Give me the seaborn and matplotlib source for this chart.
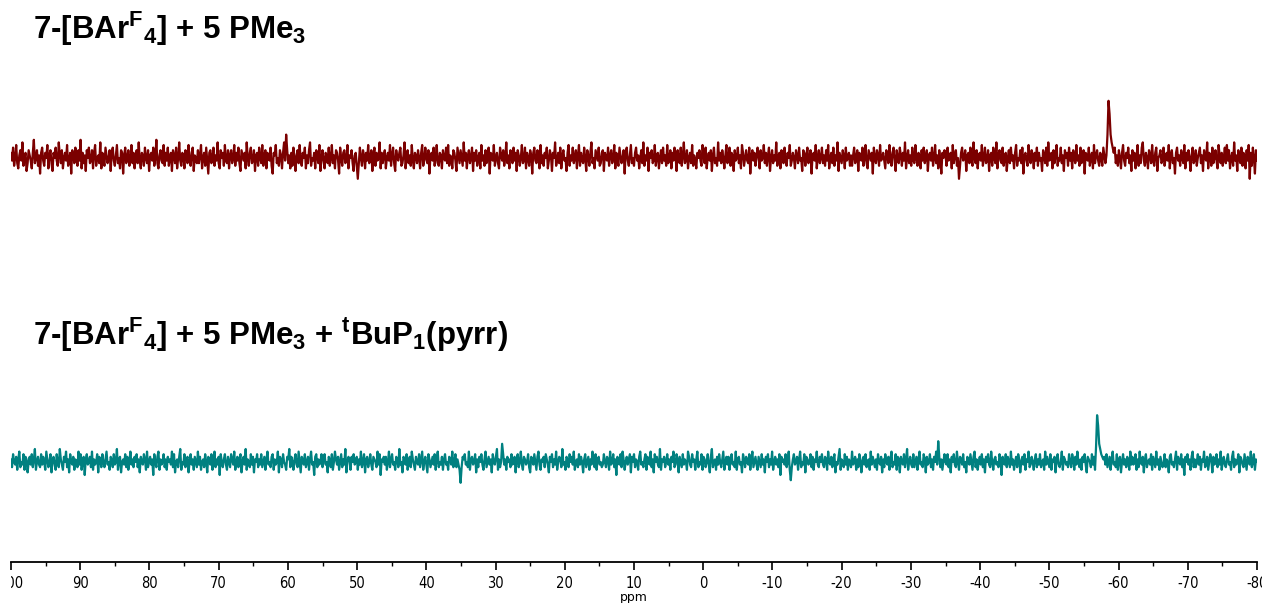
import numpy as np
import pandas as pd
import matplotlib
matplotlib.use("Agg")
import matplotlib.pyplot as plt
import seaborn as sns
from matplotlib.ticker import MultipleLocator
from matplotlib.transforms import Bbox, TransformedBbox

# Stacked 31P{1H} NMR traces: intensity (arbitrary units) sampled every 0.15 ppm, 100 -> -80 ppm
top_intensity = [
    2,-1,4,-3,0,5,-2,-4,1,3,-1,6,-3,0,2,-5,-2,3,1,-1,-4,2,7,-2,0,3,-3,1,-6,2,
    4,-1,-3,2,0,5,-4,1,3,-2,-5,2,0,4,-1,-3,6,1,-2,3,-4,0,2,-1,5,-3,-1,2,-6,3,
    1,-2,4,0,-3,3,-1,7,-4,2,-2,1,-5,3,0,4,-2,-1,3,-4,2,5,-3,0,1,-2,6,-4,2,-1,
    -3,4,1,-2,0,3,-5,2,4,-1,-3,1,5,-2,0,-4,3,2,-6,1,4,-2,0,3,-3,-1,5,-2,2,-4,
    0,3,-2,6,-1,-4,2,1,-3,4,0,-2,3,-5,1,2,-1,4,-3,0,7,-2,-4,1,3,-1,-2,5,-3,2,
    -1,4,-3,0,2,-5,3,1,-2,4,-4,0,6,-1,-3,2,1,-4,3,0,-2,5,-1,-3,2,4,-5,1,0,-2,
    3,-2,1,5,-4,0,2,-3,4,-1,-6,2,3,-2,0,4,-3,1,-1,6,-2,-4,3,0,2,-3,5,-1,-2,3,
    -4,1,3,-2,0,5,-3,2,-1,4,-2,-5,3,1,-1,2,-4,6,0,-3,2,4,-2,-1,3,-5,1,2,-3,4,
    0,-2,5,-3,1,3,-4,2,0,-1,4,-3,-6,2,1,5,-2,0,-3,3,1,-4,2,6,-1,9,3,-2,1,-4,
    2,-3,4,0,-5,1,3,-2,5,-1,-3,2,0,4,-4,1,-2,3,6,-3,0,-1,2,-4,3,1,-2,5,-5,0,
    3,-1,-4,2,1,-2,4,-3,0,5,-2,1,-4,3,2,-1,-6,4,0,-3,2,3,-2,-1,5,-4,1,0,3,-2,
    -5,1,2,-3,-8,-2,4,0,-3,3,1,-4,2,-1,5,-2,0,3,-5,1,4,-3,2,-1,0,6,-4,2,-2,1,
    3,-4,0,2,-1,5,-3,1,4,-2,-5,3,0,-1,2,4,-3,-2,1,6,-4,0,3,-2,1,-3,5,-1,-4,2,
    1,-2,3,0,-4,2,5,-3,-1,4,0,-2,3,-6,1,2,-1,4,-3,0,5,-2,-3,2,1,-4,3,0,-1,4,
    -2,5,-3,1,0,-4,3,2,-1,-5,4,1,-2,3,0,-3,6,-1,2,-4,1,3,-2,0,4,-5,2,-1,3,-3,
    0,2,-4,5,-1,1,-3,3,-2,0,4,-6,2,1,-1,5,-3,0,2,-2,-4,4,1,-1,3,-3,0,6,-2,1,
    -4,3,0,-2,4,-1,2,-5,3,1,-3,0,5,-2,-1,4,-4,2,0,-3,3,1,-6,2,4,-1,-2,3,0,-4,
    5,-2,1,-3,2,0,4,-4,-1,3,1,-5,2,0,6,-3,-1,2,-2,4,-4,1,3,-1,0,-5,2,5,-3,1,
    -1,4,-2,0,3,-4,1,5,-3,2,-1,-2,4,0,-5,3,1,-3,2,6,-2,0,-4,3,1,-1,4,-3,-2,2,
    3,-5,2,0,-1,4,-3,1,3,-2,0,5,-4,2,-1,-3,4,1,-2,0,3,-6,2,4,-1,-3,1,5,-2,0,
    -3,2,4,-1,1,-4,0,3,-2,6,-3,1,-1,4,-5,2,0,3,-2,-1,5,-3,1,2,-4,0,3,-2,4,-1,
    1,-3,5,-2,0,3,-4,2,-1,4,1,-5,3,0,-2,4,-3,1,6,-2,-1,3,-4,0,2,-2,5,-3,1,-1,
    -4,2,0,3,-1,-3,5,1,-2,4,-4,0,2,-1,3,-5,1,4,-2,0,-3,6,-1,2,-2,3,0,-4,1,5,
    -2,0,4,-3,2,1,-5,3,-1,0,4,-2,1,-4,5,2,-3,0,3,-1,-2,4,-6,1,3,-1,2,-3,0,4,
    1,-4,3,-1,0,5,-2,2,-3,1,4,-5,0,3,-2,1,-1,6,-3,0,2,-4,3,1,-2,4,-1,-3,2,0,
    5,-3,-1,2,0,-4,3,1,-2,4,-1,0,-5,3,2,-3,1,4,-2,0,3,-6,1,2,-1,5,-4,0,3,-2,
    0,4,-2,1,-3,3,-1,5,-4,0,2,-2,4,-3,1,-1,6,-5,2,0,-2,3,1,-4,4,-1,0,2,-3,1,
    -3,1,4,-2,0,3,-5,2,1,-1,4,-3,0,5,-2,-4,3,1,-1,2,-6,4,0,-2,3,1,-3,5,-1,0,
    2,-1,-4,3,1,-2,5,0,-3,2,4,-1,-5,3,0,-2,4,1,-3,2,-1,6,-4,0,3,-2,1,-3,4,-1,
    -2,5,0,-3,2,1,-4,3,-1,4,-2,0,3,-5,1,2,-1,4,-3,0,5,-2,1,-4,3,-1,-6,2,0,3,
    1,-3,4,-1,0,2,-4,5,-2,1,3,-3,0,-8,-3,2,4,-1,0,3,-5,1,2,-2,4,-1,-3,6,0,-2,
    3,-4,1,2,-1,5,-3,0,4,-2,-1,3,-5,1,2,-3,4,0,-2,6,-4,1,3,-1,-2,4,-3,0,2,-5,
    0,3,-2,4,-1,1,-4,2,5,-3,0,-1,3,-2,4,-6,1,2,-1,-3,5,0,-2,3,1,-4,2,-1,4,-3,
    2,-1,0,-5,3,1,-2,4,-3,6,-1,0,2,-4,3,-2,1,5,-3,0,-1,4,-2,1,-5,3,0,2,-3,4,
    -1,2,-4,3,0,-2,5,-1,1,-3,4,-2,0,3,-6,2,1,-1,4,-3,0,2,-4,5,-2,1,3,-1,-3,2,
    0,-3,4,1,-2,1,9,22,17,9,6,4,2,4,-2,1,-3,3,0,-4,2,5,-1,-3,2,0,4,-2,1,-5,
    3,-1,2,-4,0,5,-3,1,-2,4,6,-1,-3,2,0,-4,3,1,-2,5,-1,-3,2,4,-5,0,1,3,-2,-1,
    4,-3,0,2,-1,5,-4,1,3,-2,0,-6,2,4,-1,1,-3,3,0,-2,5,-4,2,-1,3,0,-5,1,4,-2,
    -1,3,-3,0,2,4,-2,1,-5,3,0,-1,6,-4,2,1,-3,4,-2,0,3,-1,-4,5,1,-2,2,-3,0,4,
    -2,5,-1,3,-4,0,2,-3,6,-1,1,-5,3,0,-2,4,-3,2,1,-4,3,-1,5,-8,2,-3,4,0,-6,3,
    -1,
]

bottom_intensity = [
    1,-2,3,0,-1,2,-3,1,4,-2,0,-1,3,-3,2,1,-4,0,2,-1,3,-2,1,5,-3,0,2,-1,-2,3,
    -1,2,0,-3,4,1,-2,0,3,-4,1,2,-1,-3,3,0,-2,5,1,-1,-3,2,0,4,-2,1,-4,3,0,-1,
    2,-3,1,0,-2,4,-1,3,-3,0,2,-5,1,3,-1,0,2,-2,4,-3,1,-1,0,3,-4,2,1,-2,3,0,
    -2,1,4,-1,0,-3,2,1,-2,3,-1,0,5,-3,1,2,-4,0,1,-1,3,-2,2,-3,0,4,-1,1,-2,2,
    0,3,-2,1,-4,2,0,-1,3,1,-3,4,-2,0,2,-1,1,-5,3,0,-2,2,4,-3,1,-1,0,3,-2,1,
    -3,2,0,1,-1,4,-2,3,-4,0,1,-2,2,5,-3,0,-1,3,-2,1,2,-4,0,3,-1,1,-3,2,0,-2,
    4,-1,2,-3,0,1,-2,3,0,-4,2,1,-1,3,-3,0,4,-2,1,-1,2,-5,3,0,-2,1,3,-1,-3,2,
    0,-2,3,1,-1,4,-3,0,2,-2,1,3,-4,0,2,-1,5,-3,1,0,-2,3,-1,2,-4,1,0,3,-2,1,
    -1,3,-2,0,2,-3,1,4,-1,0,-2,2,3,-3,1,-1,0,4,-4,2,1,-2,3,0,-1,-3,2,1,5,-2,
    2,0,-3,1,3,-1,-2,4,0,-4,2,1,-1,3,-2,0,2,-3,1,4,-1,0,-5,2,3,-2,1,-1,0,3,
    -2,1,3,-1,0,-4,2,1,-2,3,-3,0,4,1,-1,2,-3,0,3,-2,1,-1,5,-4,0,2,1,-3,2,0,
    3,-1,0,2,-3,1,-1,4,-2,0,3,-4,1,2,-2,0,3,-1,-3,2,1,0,-2,4,-1,3,-5,1,0,2,
    -1,2,-3,0,4,-2,1,3,-1,0,-3,2,1,-2,5,-1,0,-4,2,1,-1,3,-3,0,2,-2,4,1,-1,-3,
    2,0,-1,3,-2,1,4,-3,0,2,-1,-4,3,1,-2,0,2,-1,3,-3,1,4,-2,0,-1,2,-3,1,3,-1,
    0,-3,2,1,-1,4,-2,0,3,-2,1,-1,-3,-8,-2,2,1,3,-1,0,-2,4,-3,1,2,-1,0,3,-4,1,
    -2,2,0,3,-1,-3,1,4,-2,0,2,-1,1,-4,3,0,-1,2,5,-3,1,-2,0,7,3,-1,1,-3,2,0,
    1,-2,3,-1,0,2,-4,1,3,-2,0,4,-1,-3,2,1,-1,0,3,-2,-4,2,1,-1,3,0,-3,2,4,-1,
    -3,1,0,2,-2,3,1,-1,-4,2,0,3,-2,1,-1,4,-3,0,2,1,-2,5,-1,0,-3,2,1,-2,3,0,
    2,-1,4,-3,0,1,-2,3,-1,2,0,-4,1,3,-2,0,2,-3,1,-1,4,0,-2,3,-3,1,2,-1,0,-2,
    -1,3,0,-2,2,1,-3,4,-1,0,3,-2,1,-5,2,0,-1,3,-2,4,1,-3,0,2,-1,1,3,-4,2,0,
    3,-2,1,0,-3,2,4,-1,0,-2,1,3,-3,2,0,-1,4,-2,1,-4,3,0,2,-1,-2,5,-3,1,0,2,
    -2,0,3,-1,1,-3,2,0,4,-2,-1,3,1,-4,2,0,-2,3,-1,1,0,-3,4,2,-1,-2,3,0,1,-3,
    1,4,-2,0,-1,3,-3,2,1,-2,0,3,-1,-4,2,5,-2,0,1,-3,2,-1,3,0,-2,1,4,-3,0,2,
    -1,2,-3,1,3,-1,0,-2,4,-3,1,2,-1,0,-4,3,1,-2,2,0,-1,3,-3,1,4,-2,0,2,-1,-3,
    2,0,-2,3,-1,1,-4,2,0,3,-2,1,-1,4,-3,0,2,-1,1,-2,3,-5,2,0,1,-1,3,-2,0,4,
    -3,-7,-2,1,3,-1,0,2,-3,1,4,-2,0,-1,3,-4,2,1,-1,0,3,-2,2,-3,1,0,4,-1,-2,2,
    0,3,-1,-2,2,1,-3,4,0,-1,2,-2,1,3,-4,0,-1,2,5,-3,1,0,-2,3,-1,2,-3,1,0,-2,
    4,-1,0,2,-3,1,-2,3,1,-4,0,2,-1,3,-2,0,1,-3,4,-1,2,0,-2,1,-3,3,0,-1,2,-4,
    1,-2,3,0,-1,2,-3,1,4,-2,0,-1,3,-3,2,1,-4,2,0,-1,3,-2,1,5,-3,0,2,-1,-2,3,
    -2,0,2,-3,1,4,-1,0,-2,3,1,-4,2,-1,0,3,-2,1,-3,2,0,4,-1,8,2,-2,1,-3,0,3,
    0,-1,3,-2,1,-4,2,0,3,-1,-2,4,0,-3,2,1,-1,3,-2,0,-4,2,1,-1,3,0,-3,2,4,-2,
    1,-3,0,2,-1,3,-2,1,-4,2,0,3,-1,-2,4,0,-3,1,2,-1,0,-2,3,1,-5,2,0,-1,3,-2,
    2,0,-2,4,-1,1,-3,0,2,-2,3,1,-4,0,2,-1,3,-3,1,0,4,-2,-1,2,0,-3,1,3,-2,1,
    -1,3,-2,0,1,-3,4,-1,2,0,-2,3,-3,1,0,2,-4,1,3,-1,-2,0,4,-3,2,1,-1,0,-2,3,
    0,-2,3,1,-3,2,-1,4,0,-2,1,-3,2,0,3,-1,-4,2,1,0,-2,3,-1,2,-3,6,18,14,7,5,
    3,2,1,2,-1,3,-2,0,2,-3,1,4,-1,0,-2,3,-3,1,2,-4,0,3,-1,1,-2,2,0,-3,4,-1,
    2,-1,0,3,-3,1,-2,4,0,-1,2,-4,1,3,-2,0,1,-1,3,-3,2,0,-2,4,-1,1,-3,2,0,-2,
    -1,3,-2,1,0,-4,2,3,-1,0,-2,1,4,-3,2,0,-1,3,-2,1,-5,2,0,3,-1,1,-3,2,4,-2,
    1,-2,0,3,-1,2,-3,1,0,4,-2,-1,2,-3,0,3,1,-4,2,-1,0,3,-2,1,-1,4,-3,0,2,-1,
    -2,1,3,-1,0,-3,2,4,-2,1,-1,0,3,-4,2,1,-1,-2,3,0,-3,2,1,-1,4,-2,0,3,-3,1,
    0,
]

trace_titles = [
    r"7-[BAr$\mathregular{^F{}_4}$] + 5 PMe$\mathregular{_3}$",
    r"7-[BAr$\mathregular{^F{}_4}$] + 5 PMe$\mathregular{_3}$ + $\mathregular{^t}$BuP$\mathregular{_1}$(pyrr)",
]
trace_colors = ["#7b0000", "#008080"]

ppm_start, ppm_end = 100, -80

sns.set_theme(style="white")
plt.rcParams["font.family"] = ["DejaVu Sans"]
plt.rcParams["text.color"] = "black"
plt.rcParams["xtick.color"] = "black"
plt.rcParams["axes.labelcolor"] = "black"

fig = plt.figure(figsize=(12.62, 6.03), dpi=100)
W, H = 1262, 603
ax = fig.add_axes([11 / W, 41 / H, (1257 - 11) / W, 562 / H])

offsets = [404, 100]   # vertical stacking of the two traces
px_per_unit = 2.6
rows = []
for name, vals, off in zip(["top", "bottom"], [top_intensity, bottom_intensity], offsets):
    vals = np.asarray(vals, dtype=float)
    ppm = np.linspace(ppm_start, ppm_end, len(vals))
    rows.append(pd.DataFrame({"ppm": ppm, "y": vals * px_per_unit + off, "trace": name}))
df = pd.concat(rows, ignore_index=True)

for name, color in zip(["top", "bottom"], trace_colors):
    sns.lineplot(data=df[df.trace == name], x="ppm", y="y", ax=ax, color=color,
                 linewidth=1.6, estimator=None, sort=False)

ax.set_xlim(ppm_start, ppm_end)
ax.set_ylim(0, 562)
for side in ["left", "right", "top"]:
    ax.spines[side].set_visible(False)
ax.spines["bottom"].set_color("black")
ax.spines["bottom"].set_linewidth(1.3)
ax.set_yticks([])
ax.set_ylabel("")
ax.xaxis.set_major_locator(MultipleLocator(10))
ax.xaxis.set_minor_locator(MultipleLocator(5))
ax.tick_params(axis="x", which="major", direction="out", length=6, width=1.2,
               color="black", labelsize=10.5, pad=4, bottom=True)
ax.tick_params(axis="x", which="minor", direction="out", length=3, width=1.0,
               color="black", bottom=True)
ticks = list(range(100, -81, -10))
ax.set_xticks(ticks)
ax.set_xticklabels([str(v) for v in ticks])
ax.set_xlabel("ppm", fontsize=9, labelpad=0)
ax.patch.set_alpha(0)

# tick labels are clipped to the horizontal extent of the spectrum
clip = TransformedBbox(Bbox.from_extents(11 / W, 0, 1, 1), fig.transFigure)
for lab in ax.get_xticklabels():
    lab.set_fontstretch("condensed")
    lab.set_clip_box(clip)
    lab.set_clip_on(True)

title_y = [39, 345]
for txt, ty in zip(trace_titles, title_y):
    fig.text(33 / W, 1 - ty / H, txt, fontsize=22.5, fontweight="bold",
             family="Liberation Sans", va="baseline", ha="left", color="black")

fig.savefig("out.png", dpi=100, facecolor="white")
